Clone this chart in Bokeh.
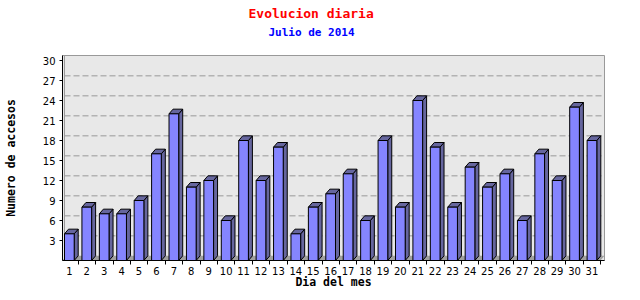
from bokeh.plotting import figure
from bokeh.models import Range1d, FixedTicker, Title
from bokeh.embed import file_html
from bokeh.resources import INLINE

# ---- data ----
days = list(range(1, 32))
accesses = [4, 8, 7, 7, 9, 16, 22, 11, 12, 6, 18, 12, 17, 4, 8, 10,
            13, 6, 18, 8, 24, 17, 8, 14, 11, 13, 6, 16, 12, 23, 18]
y_ticks = [3, 6, 9, 12, 15, 18, 21, 24, 27, 30]
title_text = "Evolucion diaria"
subtitle_text = "Julio de 2014"
x_title = "Dia del mes"
y_title = "Numero de accesos"

# ---- style / geometry (data units) ----
X_MIN, X_MAX = 0.607, 31.72
Y_MIN, Y_MAX = 0.0, 30.75
HALF_W = 0.278      # half width of bar front face
DX, DY = 0.23, 0.7  # 3D depth
FRONT = "#8585ff"
SHADE = "#66669e"
WALL = "#e8e8e8"
GREY = "#999999"
MONO = "DejaVu Sans Mono"

p = figure(width=640, height=300, output_backend="svg", toolbar_location=None,
           x_range=Range1d(X_MIN, X_MAX), y_range=Range1d(Y_MIN, Y_MAX),
           min_border_left=62, min_border_right=36, min_border_top=55,
           min_border_bottom=40)
p.background_fill_color = WALL
p.border_fill_color = "white"
p.outline_line_color = GREY
p.xgrid.visible = False
p.ygrid.visible = False

# back wall left edge
p.segment(x0=[X_MIN + DX * 0.5], y0=[DY], x1=[X_MIN + DX * 0.5], y1=[Y_MAX],
          line_color=GREY, line_width=1)

# dashed grid lines on the back wall
p.segment(x0=[X_MIN + DX * 0.5] * 9, y0=[t + DY for t in y_ticks[:-1]],
          x1=[X_MAX] * 9, y1=[t + DY for t in y_ticks[:-1]],
          line_color=GREY, line_width=1, line_dash="6 3")

# floor
p.patch(x=[X_MIN, X_MAX - DX, X_MAX, X_MIN + DX], y=[0, 0, DY, DY],
        fill_color="#a0a0a0", line_color=None)

# bars: side, top, front
lefts = [d - HALF_W for d in days]
rights = [d + HALF_W for d in days]
side_xs = [[r, r + DX, r + DX, r] for r in rights]
side_ys = [[0, DY, v + DY, v] for v in accesses]
top_xs = [[l, r, r + DX, l + DX] for l, r in zip(lefts, rights)]
top_ys = [[v, v, v + DY, v + DY] for v in accesses]
p.patches(xs=side_xs, ys=side_ys, fill_color=SHADE, line_color="black", line_width=1)
p.patches(xs=top_xs, ys=top_ys, fill_color=SHADE, line_color="black", line_width=1)
p.quad(left=lefts, right=rights, bottom=0, top=accesses,
       fill_color=FRONT, line_color="black", line_width=1)

# axes
xa = p.xaxis[0]
xa.ticker = FixedTicker(ticks=days, minor_ticks=[d + HALF_W + DX for d in days])
xa.major_tick_out = 0
xa.major_tick_in = 0
xa.minor_tick_out = 4
xa.minor_tick_in = 0
xa.major_label_standoff = 2
xa.major_label_text_font = "DejaVu Sans"
xa.major_label_text_font_size = "10px"
xa.major_label_text_color = "black"
xa.axis_line_color = "black"
xa.axis_label = x_title
xa.axis_label_text_font = MONO
xa.axis_label_text_font_style = "bold"
xa.axis_label_text_font_size = "11.5px"
xa.axis_label_text_color = "black"
xa.axis_label_standoff = -3

ya = p.yaxis[0]
ya.ticker = FixedTicker(ticks=y_ticks, minor_ticks=[])
ya.major_tick_out = 3
ya.major_tick_in = 0
ya.minor_tick_out = 0
ya.minor_tick_in = 0
ya.major_label_standoff = 4
ya.major_label_text_font = "DejaVu Sans"
ya.major_label_text_font_size = "10px"
ya.major_label_text_color = "black"
ya.axis_line_color = "black"
ya.axis_label = y_title
ya.axis_label_text_font = MONO
ya.axis_label_text_font_style = "bold"
ya.axis_label_text_font_size = "11.5px"
ya.axis_label_text_color = "black"
ya.axis_label_standoff = 22

# titles: stacked outward from the frame (spacer, subtitle, title)
spacer = Title(text=" ", text_font_size="10px", standoff=2, text_color="white")
sub = Title(text=subtitle_text, align="left", offset=206, vertical_align="middle",
            text_font=MONO, text_font_style="bold", text_font_size="11px",
            text_color="#0000ff", standoff=2)
main = Title(text=title_text, align="left", offset=186, vertical_align="middle",
             text_font=MONO, text_font_style="bold", text_font_size="13px",
             text_color="#ff0000", standoff=3)
p.add_layout(spacer, "above")
p.add_layout(sub, "above")
p.add_layout(main, "above")

open("out.html", "w").write(file_html(p, INLINE))
